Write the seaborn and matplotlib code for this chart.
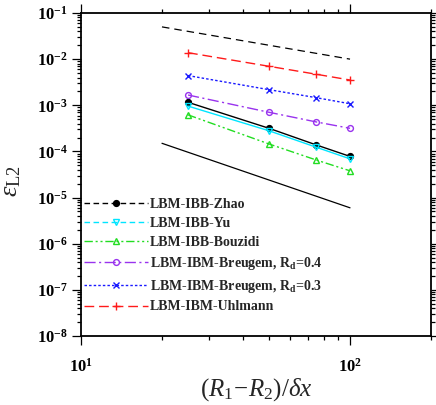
import matplotlib
matplotlib.use("Agg")
import matplotlib.pyplot as plt
from matplotlib.lines import Line2D
from matplotlib.ticker import LogLocator, FuncFormatter, NullFormatter
import numpy as np
import pandas as pd
import seaborn as sns

sns.set_style("white")
plt.rcParams['font.family'] = ['Liberation Serif', 'DejaVu Serif']
plt.rcParams['mathtext.fontset'] = 'custom'
plt.rcParams['mathtext.rm'] = 'Liberation Serif'
plt.rcParams['mathtext.it'] = 'Liberation Serif:italic'
plt.rcParams['mathtext.bf'] = 'Liberation Serif:bold'

# ---- data ----
resolution = [25, 50, 75, 100]
zhao = [1.16e-3, 3.17e-4, 1.38e-4, 7.8e-5]
yu = [9.6e-4, 2.8e-4, 1.23e-4, 6.9e-5]
bouzidi = [6.2e-4, 1.45e-4, 6.5e-5, 3.8e-5]
breugem04 = [1.67e-3, 7.05e-4, 4.35e-4, 3.17e-4]
breugem03 = [4.4e-3, 2.18e-3, 1.46e-3, 1.08e-3]
uhlmann = [1.38e-2, 7.0e-3, 4.7e-3, 3.53e-3]
ref_x = [20, 100]
ref_first = [5e-2, 1e-2]
ref_second = [1.5e-4, 6e-6]

labels = ["LBM-IBB-Zhao", "LBM-IBB-Yu", "LBM-IBB-Bouzidi",
          r"LBM-IBM-Breugem, $\mathbf{R_d}$=0.4",
          r"LBM-IBM-Breugem, $\mathbf{R_d}$=0.3",
          "LBM-IBM-Uhlmann"]

fig = plt.figure(figsize=(4.36, 4.05), dpi=100)
ax = fig.add_axes([81/436, 1-336/405, 350/436, 323/405])

lw = 1.0
styles = [
    dict(y=zhao, color='black', marker='o', mfc='black', ms=4.2, ls='-', leg_ls=(0, (4, 2.5))),
    dict(y=yu, color='#00E5FF', marker='v', mfc='none', ms=4.2, ls='-', leg_ls=(0, (4, 2.5))),
    dict(y=bouzidi, color='#22DD22', marker='^', mfc='none', ms=4.2, ls=(0, (6, 2, 1.5, 2, 1.5, 2)), leg_ls=(0, (6, 2, 1.5, 2, 1.5, 2))),
    dict(y=breugem04, color='#9933EE', marker='o', mfc='none', ms=4.2, ls=(0, (8, 2.5, 1.5, 2.5)), leg_ls=(0, (8, 2.5, 1.5, 2.5))),
    dict(y=breugem03, color='#1A1AFF', marker='x', mfc='none', ms=4.5, ls=(0, (1.8, 1.5)), leg_ls=(0, (1.8, 1.5))),
    dict(y=uhlmann, color='#FF1A1A', marker='+', mfc='none', ms=5.5, ls=(0, (7, 3.5)), leg_ls=(0, (7, 3.5))),
]

# reference slope lines
sns.lineplot(x=ref_x, y=ref_first, ax=ax, color='black', lw=0.9, linestyle=(0, (6, 4)))
sns.lineplot(x=ref_x, y=ref_second, ax=ax, color='black', lw=0.9, linestyle='-')

handles = []
for st, lab in zip(styles, labels):
    sns.lineplot(x=resolution, y=st['y'], ax=ax, color=st['color'], lw=lw,
                 linestyle=st['ls'], marker=st['marker'], markersize=st['ms'],
                 markerfacecolor=st['mfc'], markeredgecolor=st['color'],
                 markeredgewidth=1.0)
    handles.append(Line2D([0], [0], color=st['color'], lw=lw, linestyle=st['leg_ls'],
                          marker=st['marker'], markersize=st['ms'],
                          markerfacecolor=st['mfc'], markeredgecolor=st['color'],
                          markeredgewidth=1.0, label=lab))

ax.set_xscale('log')
ax.set_yscale('log')
ax.set_xlim(10, 200)
ax.set_ylim(1e-8, 1e-1)

ax.yaxis.set_major_locator(LogLocator(base=10, numticks=20))
ax.yaxis.set_minor_locator(LogLocator(base=10, subs=np.arange(2, 10), numticks=50))
ax.xaxis.set_major_locator(LogLocator(base=10, numticks=10))
ax.xaxis.set_minor_locator(LogLocator(base=10, subs=np.arange(2, 10), numticks=20))
fmt = FuncFormatter(lambda v, p: r'$\mathbf{10^{%d}}$' % int(round(np.log10(v))))
ax.xaxis.set_major_formatter(fmt)
ax.yaxis.set_major_formatter(fmt)
ax.xaxis.set_minor_formatter(NullFormatter())
ax.yaxis.set_minor_formatter(NullFormatter())

for s in ax.spines.values():
    s.set_visible(True)
    s.set_color('black')
    s.set_linewidth(1.3)

ax.tick_params(which='both', direction='out', top=True, right=True, bottom=True, left=True,
               colors='black', width=0.9)
ax.tick_params(which='major', length=6.5)
ax.tick_params(which='minor', length=3)
ax.tick_params(axis='x', which='major', pad=9, labelsize=12)
ax.tick_params(axis='y', which='major', pad=3, labelsize=12)

ax.set_xlabel(r'$(R_1\!-\!R_2)/\delta x$', fontsize=18)
ax.xaxis.set_label_coords(0.5, -0.125)
ax.set_ylabel(r'$\varepsilon_{\mathrm{L2}}$', fontsize=19)
ax.yaxis.set_label_coords(-0.165, 0.48)

leg = ax.legend(handles=handles, loc='center left', bbox_to_anchor=(3/350, 0.248),
                frameon=False, borderpad=0, borderaxespad=0, handlelength=4.6,
                handletextpad=0.15, labelspacing=0.42, numpoints=1,
                prop={'family': 'Liberation Serif', 'weight': 'bold', 'size': 10})

fig.savefig('out.png', dpi=100)
